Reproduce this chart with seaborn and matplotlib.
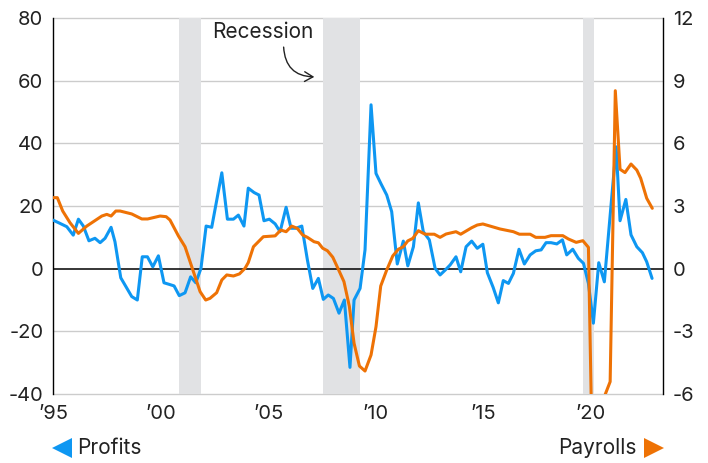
import pandas as pd
import seaborn as sns
import matplotlib.pyplot as plt
from matplotlib.patches import FancyArrowPatch
from matplotlib.lines import Line2D

# profits, % y/y (left axis)
profit_years = [1995.00, 1995.28, 1995.64, 1995.94, 1996.18, 1996.41, 1996.67, 1996.95,
                1997.19, 1997.42, 1997.70, 1997.88, 1998.15, 1998.66, 1998.92, 1999.15,
                1999.39, 1999.64, 1999.90, 2000.16, 2000.40, 2000.63, 2000.87, 2001.14,
                2001.40, 2001.64, 2001.88, 2002.12, 2002.38, 2002.85, 2003.11, 2003.39,
                2003.62, 2003.88, 2004.08, 2004.35, 2004.58, 2004.81, 2005.06, 2005.33,
                2005.56, 2005.84, 2006.07, 2006.30, 2006.57, 2006.83, 2007.08, 2007.34,
                2007.57, 2007.80, 2008.04, 2008.30, 2008.55, 2008.81, 2009.00, 2009.28,
                2009.51, 2009.79, 2010.02, 2010.26, 2010.52, 2010.75, 2011.01, 2011.29,
                2011.50, 2011.76, 2011.99, 2012.22, 2012.50, 2012.77, 2013.00, 2013.23,
                2013.47, 2013.74, 2013.96, 2014.21, 2014.47, 2014.73, 2014.99, 2015.20,
                2015.47, 2015.71, 2015.94, 2016.18, 2016.41, 2016.67, 2016.92, 2017.19,
                2017.45, 2017.70, 2017.93, 2018.16, 2018.43, 2018.69, 2018.89, 2019.17,
                2019.43, 2019.67, 2019.90, 2020.13, 2020.38, 2020.64, 2020.91, 2021.19,
                2021.37, 2021.64, 2021.88, 2022.15, 2022.41, 2022.61, 2022.86]
profit_vals = [15.5, 14.6, 13.4, 10.7, 15.8, 13.6, 8.9, 9.7,
               8.3, 9.7, 13.2, 8.6, -2.9, -8.9, -10.0, 3.8,
               3.8, 0.6, 4.1, -4.5, -5.0, -5.5, -8.6, -7.7,
               -2.6, -4.5, 0.1, 13.6, 13.2, 30.6, 15.8, 15.8,
               17.1, 13.6, 25.7, 24.3, 23.5, 15.3, 15.8, 14.3,
               11.8, 19.6, 12.9, 12.9, 13.6, 2.8, -6.3, -3.1,
               -9.8, -8.4, -9.5, -14.2, -10.0, -31.5, -10.0, -6.3,
               6.0, 52.3, 30.4, 27.0, 23.5, 18.2, 1.5, 8.8,
               0.9, 7.0, 21.0, 11.8, 9.2, 0.1, -2.0, -0.5,
               1.2, 3.8, -1.0, 7.0, 8.8, 6.5, 7.8, -1.3,
               -6.0, -10.9, -3.8, -4.7, -1.5, 6.2, 1.5, 4.4,
               5.7, 6.0, 8.3, 8.3, 7.9, 9.2, 4.4, 6.2,
               3.3, 1.7, -4.7, -17.4, 1.9, -4.2, 17.0, 38.9,
               15.3, 22.1, 10.8, 7.0, 5.1, 2.2, -3.1]

# payrolls, % y/y (right axis)
payroll_years = [1995.00, 1995.20, 1995.45, 1995.79, 1996.18, 1996.57, 1996.92, 1997.27,
                 1997.50, 1997.70, 1997.92, 1998.12, 1998.66, 1999.13, 1999.40, 1999.98,
                 2000.26, 2000.44, 2000.83, 2001.14, 2001.45, 2001.84, 2002.10, 2002.30,
                 2002.61, 2002.85, 2003.08, 2003.39, 2003.67, 2003.93, 2004.08, 2004.32,
                 2004.78, 2005.33, 2005.59, 2005.84, 2006.10, 2006.36, 2006.61, 2006.83,
                 2007.14, 2007.34, 2007.54, 2007.76, 2008.01, 2008.27, 2008.53, 2008.78,
                 2009.00, 2009.25, 2009.51, 2009.79, 2010.02, 2010.24, 2010.52, 2010.80,
                 2011.06, 2011.29, 2011.50, 2011.73, 2011.99, 2012.30, 2012.73, 2013.00,
                 2013.28, 2013.74, 2013.96, 2014.47, 2014.73, 2014.99, 2015.79, 2016.41,
                 2016.69, 2017.19, 2017.45, 2017.88, 2018.16, 2018.71, 2018.97, 2019.33,
                 2019.64, 2019.90, 2020.15, 2020.40, 2020.65, 2020.91, 2021.15, 2021.37,
                 2021.60, 2021.88, 2022.15, 2022.33, 2022.61, 2022.87]
payroll_vals = [3.4, 3.4, 2.76, 2.2, 1.69, 2.04, 2.28, 2.52,
                2.6, 2.52, 2.76, 2.76, 2.62, 2.38, 2.38, 2.52,
                2.49, 2.33, 1.57, 1.05, 0.1, -1.1, -1.5, -1.42,
                -1.15, -0.54, -0.3, -0.35, -0.25, 0.02, 0.29, 1.05,
                1.53, 1.57, 1.85, 1.77, 2.04, 1.93, 1.61, 1.5,
                1.29, 1.24, 0.98, 0.86, 0.55, -0.03, -0.62, -1.8,
                -3.57, -4.66, -4.9, -4.13, -2.78, -0.83, -0.06, 0.61,
                0.93, 1.05, 1.33, 1.45, 1.82, 1.65, 1.65, 1.5,
                1.66, 1.77, 1.65, 1.96, 2.09, 2.14, 1.9, 1.77,
                1.65, 1.65, 1.5, 1.5, 1.58, 1.58, 1.42, 1.26,
                1.34, 1.02, -13.0, -7.3, -6.1, -5.41, 8.52, 4.76,
                4.6, 5.01, 4.72, 4.33, 3.37, 2.89]

recessions = [(2000.86, 2001.88), (2007.57, 2009.28), (2019.65, 2020.16)]
left_ticks = [-40, -20, 0, 20, 40, 60, 80]
right_ticks = [-6, -3, 0, 3, 6, 9, 12]
year_ticks = [1995, 2000, 2005, 2010, 2015, 2020]
year_labels = ["\u201995", "\u201900", "\u201905", "\u201910", "\u201915", "\u201920"]

blue = "#0e97f2"
orange = "#ee7205"
ink = "#222222"

sns.set_style("white")
plt.rcParams["font.family"] = ["Inter", "DejaVu Sans"]
plt.rcParams["axes.unicode_minus"] = False

fig = plt.figure(figsize=(7.08, 4.63), dpi=100)
ax = fig.add_axes([0.0749, 0.149, 0.8616, 0.8121])

profits = pd.DataFrame({"year": profit_years, "value": profit_vals})
payrolls = pd.DataFrame({"year": payroll_years, "value": payroll_vals})

# grid + recession shading
for v in left_ticks:
    if v != 0:
        ax.axhline(v, color="#cccccc", lw=1, zorder=0.5, clip_on=False)
for start, end in recessions:
    ax.axvspan(start, end, color="#e1e2e4", lw=0, zorder=1)
ax.axhline(0, color="black", lw=1.1, zorder=1.5)

sns.lineplot(data=profits, x="year", y="value", ax=ax, color=blue, lw=2.2,
             estimator=None, zorder=3)
ax.set_xlim(1995, 2023.37)
ax.set_ylim(-40, 80)
ax.set_yticks(left_ticks)
ax.set_xticks(year_ticks)
ax.set_xticklabels(year_labels)
ax.set_xlabel("")
ax.set_ylabel("")

ax2 = ax.twinx()
sns.lineplot(data=payrolls, x="year", y="value", ax=ax2, color=orange, lw=2.2,
             estimator=None, zorder=3)
ax2.set_ylim(-6, 12)
ax2.set_yticks(right_ticks)
ax2.set_ylabel("")
ax2.set_xlim(1995, 2023.37)

for a in (ax, ax2):
    for s in a.spines.values():
        s.set_visible(False)
ax.spines["left"].set_visible(True)
ax.spines["left"].set_color("black")
ax.spines["left"].set_linewidth(1)
ax2.spines["right"].set_visible(True)
ax2.spines["right"].set_color("black")
ax2.spines["right"].set_linewidth(1)

ax.tick_params(axis="y", length=0, pad=7, labelsize=14.5, colors=ink)
ax.tick_params(axis="x", length=0, pad=8, labelsize=14.5, colors=ink)
ax2.tick_params(axis="y", length=0, pad=7, labelsize=14.5, colors=ink)

# recession note
ax.text(2004.77, 75.5, "Recession", ha="center", va="center", fontsize=15, color=ink)
arrow = FancyArrowPatch((2005.72, 71.6), (2007.28, 61.2),
                        arrowstyle="->,head_length=6,head_width=3.5",
                        connectionstyle="arc3,rad=0.5", color=ink, lw=1, zorder=4)
ax.add_patch(arrow)

# bottom labels
fig.add_artist(Line2D([0.0876], [0.0324], marker="<", markersize=14, color=blue,
                      markeredgewidth=0, transform=fig.transFigure))
fig.text(0.1088, 0.0324, "Profits", ha="left", va="center", fontsize=15, color=ink)
fig.add_artist(Line2D([0.9237], [0.0324], marker=">", markersize=14, color=orange,
                      markeredgewidth=0, transform=fig.transFigure))
fig.text(0.8997, 0.0324, "Payrolls", ha="right", va="center", fontsize=15, color=ink)

fig.savefig("out.png", dpi=100)
